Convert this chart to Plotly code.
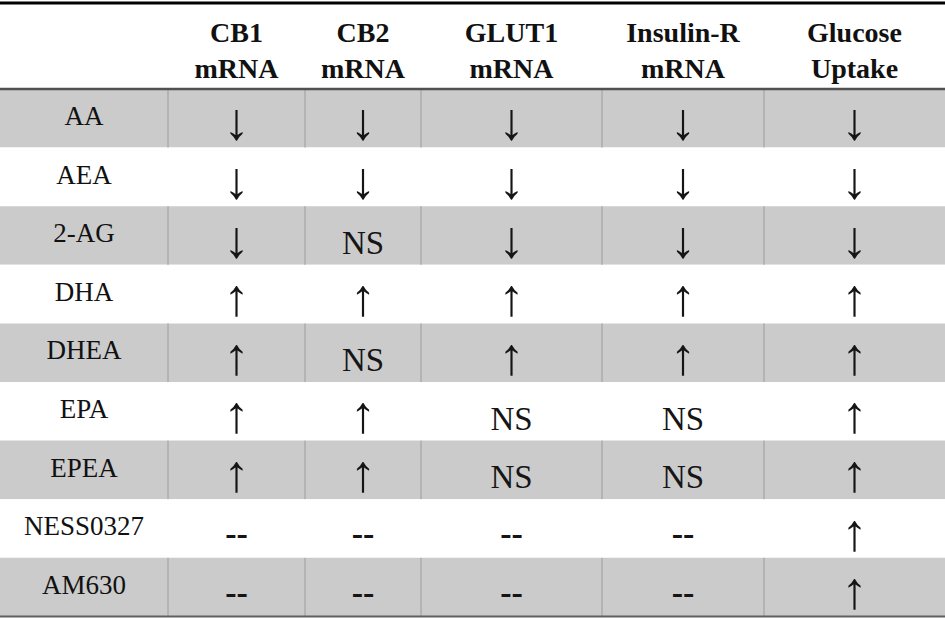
import plotly.graph_objects as go

# ===== 데이터 =====
COMPOUNDS = ["AA", "AEA", "2-AG", "DHA", "DHEA", "EPA", "EPEA", "NESS0327", "AM630"]
HEADERS = ["", "CB1<br>mRNA", "CB2<br>mRNA", "GLUT1<br>mRNA", "Insulin-R<br>mRNA", "Glucose<br>Uptake"]
CB1_MRNA = ["↓", "↓", "↓", "↑", "↑", "↑", "↑", "--", "--"]
CB2_MRNA = ["↓", "↓", "NS", "↑", "NS", "↑", "↑", "--", "--"]
GLUT1_MRNA = ["↓", "↓", "↓", "↑", "↑", "NS", "NS", "--", "--"]
INSR_MRNA = ["↓", "↓", "↓", "↑", "↑", "NS", "NS", "--", "--"]
GLUCOSE_UPTAKE = ["↓", "↓", "↓", "↑", "↑", "↑", "↑", "↑", "↑"]

COLUMNS = [CB1_MRNA, CB2_MRNA, GLUT1_MRNA, INSR_MRNA, GLUCOSE_UPTAKE]

# ===== 레이아웃 설정 =====
W, H = 945, 618
COL_W = [168, 137, 116, 181, 162, 181]
TOP = 3
HEADER_H = 86
ROW_H = 58.6
GRAY = '#cbcbcb'
SERIF = 'Liberation Serif'

# 값 종류별 글꼴 크기 / 세로 보정(px)
VALUE_SIZE = {'↑': 52, '↓': 52, 'NS': 33, '--': 34}
VALUE_SHIFT = {'↑': 8, '↓': 8, 'NS': 10, '--': 8}

edges = [0]
for w in COL_W:
    edges.append(edges[-1] + w)
col_mid = [(edges[i] + edges[i + 1]) / 2 for i in range(len(COL_W))]

body_top = TOP + HEADER_H
row_mid = [body_top + (i + 0.5) * ROW_H for i in range(len(COMPOUNDS))]
row_fill = [GRAY if i % 2 == 0 else 'white' for i in range(len(COMPOUNDS))]

fig = go.Figure()

# 행 배경
fig.add_trace(go.Bar(
    y=row_mid, x=[edges[-1]] * len(COMPOUNDS), base=0, orientation='h',
    width=ROW_H, marker=dict(color=row_fill, line=dict(width=0)),
    hoverinfo='skip'
))

# 회색 행의 세로 구분선
vx, vy = [], []
for i, f in enumerate(row_fill):
    if f != GRAY:
        continue
    for e in edges[1:-1]:
        vx += [e, e, None]
        vy += [row_mid[i] - ROW_H / 2, row_mid[i] + ROW_H / 2, None]
fig.add_trace(go.Scatter(x=vx, y=vy, mode='lines',
                         line=dict(color='#9c9c9c', width=1), hoverinfo='skip'))

# 가로 규칙선
rules = [(TOP, 'black', 3), (body_top, '#505050', 2.5),
         (body_top + len(COMPOUNDS) * ROW_H, '#606060', 2)]
for y, c, w in rules:
    fig.add_trace(go.Scatter(x=[0, edges[-1]], y=[y, y], mode='lines',
                             line=dict(color=c, width=w), hoverinfo='skip'))

# 헤더
fig.add_trace(go.Scatter(
    x=col_mid, y=[TOP + HEADER_H / 2 + 7] * len(HEADERS), mode='text',
    text=[f'<b>{h}</b>' if h else '' for h in HEADERS],
    textposition='middle center',
    textfont=dict(family=SERIF, size=28, color='#111111'), hoverinfo='skip'
))

# 화합물 이름
fig.add_trace(go.Scatter(
    x=[col_mid[0]] * len(COMPOUNDS), y=row_mid, mode='text', text=COMPOUNDS,
    textposition='middle center',
    textfont=dict(family=SERIF, size=27, color='#111111'), hoverinfo='skip'
))

# 결과 값
tx, ty, tt, ts = [], [], [], []
for j, col in enumerate(COLUMNS):
    for i, v in enumerate(col):
        tx.append(col_mid[j + 1])
        ty.append(row_mid[i] + VALUE_SHIFT[v])
        tt.append('<b>--</b>' if v == '--' else v)
        ts.append(VALUE_SIZE[v])
fig.add_trace(go.Scatter(
    x=tx, y=ty, mode='text', text=tt, textposition='middle center',
    textfont=dict(family=SERIF, size=ts, color='#151515'), hoverinfo='skip'
))

fig.update_layout(
    width=W, height=H, margin=dict(l=0, r=0, t=0, b=0),
    paper_bgcolor='white', plot_bgcolor='white', showlegend=False,
    xaxis=dict(range=[0, W], visible=False, fixedrange=True),
    yaxis=dict(range=[H, 0], visible=False, fixedrange=True),
)

fig.write_html("out.html", config={'displayModeBar': False},
               post_script="document.body.style.margin = '0';")
